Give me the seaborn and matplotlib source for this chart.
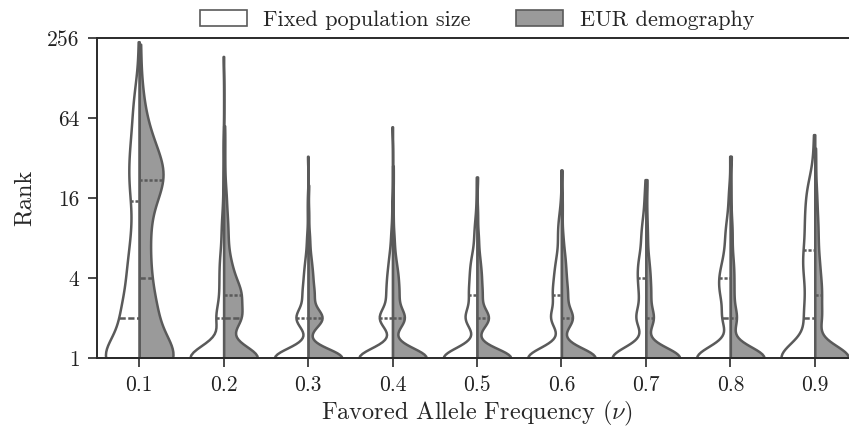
import numpy as np
import pandas as pd
import seaborn as sns
import matplotlib.pyplot as plt
from matplotlib.patches import Patch
from matplotlib.ticker import NullLocator

# ---------------- data (rank value, number of loci) ----------------
freq_labels = ["0.1", "0.2", "0.3", "0.4", "0.5", "0.6", "0.7", "0.8", "0.9"]
conditions = ["Fixed population size", "EUR demography"]
rank_ticks = [1, 4, 16, 64, 256]

fixed_01 = [(1, 40), (2, 16), (3, 6), (4, 5), (5, 4), (6, 3), (8, 4), (10, 2), (13, 2),
            (16, 3), (20, 3), (24, 4), (32, 4), (40, 3), (48, 2), (64, 3), (80, 2),
            (100, 2), (128, 1), (240, 1)]
eur_01 = [(1, 27), (2, 10), (3, 4), (4, 3), (5, 2), (6, 2), (8, 3), (10, 2), (12, 2),
          (16, 3), (20, 7), (24, 4), (28, 4), (32, 4), (40, 2), (48, 3), (64, 2),
          (90, 1), (115, 1), (230, 1)]

fixed_02 = [(1, 63), (2, 13), (3, 5), (4, 4), (5, 3), (6, 3), (8, 2), (10, 2), (12, 1),
            (16, 1), (24, 1), (40, 1), (186, 1)]
eur_02 = [(1, 45), (2, 20), (3, 17), (4, 7), (5, 4), (6, 3), (8, 3), (10, 2), (12, 2),
          (16, 2), (20, 1), (28, 1), (40, 1), (56, 1)]

fixed_03 = [(1, 57), (2, 20), (3, 8), (4, 5), (5, 3), (6, 2), (8, 2), (12, 1), (16, 1), (33, 1)]
eur_03 = [(1, 54), (2, 22), (3, 8), (4, 5), (5, 3), (6, 2), (8, 2), (12, 1), (20, 1)]

fixed_04 = [(1, 55), (2, 21), (3, 8), (4, 6), (5, 3), (6, 3), (8, 2), (10, 1), (14, 1), (55, 1)]
eur_04 = [(1, 56), (2, 19), (3, 8), (4, 6), (5, 3), (6, 2), (8, 2), (12, 1), (20, 1), (28, 1)]

fixed_05 = [(1, 54), (2, 18), (3, 10), (4, 7), (5, 5), (6, 4), (8, 3), (10, 2), (12, 1),
            (16, 1), (23, 1)]
eur_05 = [(1, 57), (2, 19), (3, 7), (4, 5), (5, 3), (6, 2), (8, 2), (12, 1), (23, 1)]

fixed_06 = [(1, 60), (2, 18), (3, 12), (4, 8), (5, 5), (6, 4), (8, 4), (10, 3), (12, 2),
            (16, 1), (26, 1)]
eur_06 = [(1, 57), (2, 18), (3, 8), (4, 5), (5, 3), (6, 3), (8, 2), (12, 1), (16, 1), (26, 1)]

fixed_07 = [(1, 58), (2, 16), (3, 8), (4, 8), (5, 6), (6, 5), (8, 5), (10, 3), (12, 2),
            (16, 2), (22, 1)]
eur_07 = [(1, 66), (2, 14), (3, 7), (4, 5), (5, 3), (6, 2), (8, 2), (10, 1), (12, 1),
          (16, 1), (22, 2)]

fixed_08 = [(1, 55), (2, 12), (3, 11), (4, 11), (5, 5), (6, 5), (8, 5), (10, 3), (12, 2),
            (16, 2), (20, 1), (33, 1)]
eur_08 = [(1, 70), (2, 12), (3, 5), (4, 4), (5, 3), (6, 2), (8, 2), (10, 2), (14, 1),
          (20, 1), (33, 2)]

fixed_09 = [(1, 36), (2, 9), (3, 5), (4, 4), (5, 4), (6, 5), (8, 4), (10, 3), (12, 4),
            (16, 4), (20, 3), (24, 1), (32, 1), (48, 1)]
eur_09 = [(1, 60), (2, 10), (3, 8), (4, 5), (5, 3), (6, 3), (8, 3), (10, 2), (12, 2),
          (16, 2), (20, 1), (28, 1), (38, 1)]

fixed_groups = [fixed_01, fixed_02, fixed_03, fixed_04, fixed_05, fixed_06, fixed_07, fixed_08, fixed_09]
eur_groups = [eur_01, eur_02, eur_03, eur_04, eur_05, eur_06, eur_07, eur_08, eur_09]

# ---------------- long table ----------------
rows = []
for f, fixed, eur in zip(freq_labels, fixed_groups, eur_groups):
    for cond, pairs in ((conditions[0], fixed), (conditions[1], eur)):
        for r, c in pairs:
            rows.extend([(f, cond, float(r))] * c)
df = pd.DataFrame(rows, columns=["freq", "cond", "rank"])

# ---------------- style ----------------
sns.set_style("ticks")
plt.rcParams["font.family"] = ["cmr10", "DejaVu Serif"]
plt.rcParams["mathtext.fontset"] = "cm"
plt.rcParams["axes.formatter.use_mathtext"] = True
plt.rcParams["axes.unicode_minus"] = False

line_col = "#5a5a5a"
spine_col = "#2a2a2a"
fill_gray = "#9a9a9a"

fig = plt.figure(figsize=(8.49, 4.30), dpi=100)
ax = fig.add_axes([97 / 849, 1 - 358 / 430, 760 / 849, 320 / 430])

sns.violinplot(
    data=df, x="freq", y="rank", hue="cond",
    order=freq_labels, hue_order=conditions,
    split=True, inner="quart", cut=0, density_norm="width",
    log_scale=2, bw_adjust=0.6, width=0.8, gap=0,
    palette={conditions[0]: "white", conditions[1]: fill_gray},
    linecolor=line_col, linewidth=1.8, saturation=1,
    legend=False, ax=ax,
)

ax.set_ylim(1, 256)
ax.set_xlim(-0.5, 8.5)
ax.set_yticks(rank_ticks)
ax.set_yticklabels([str(t) for t in rank_ticks])
ax.yaxis.set_minor_locator(NullLocator())

ax.set_xlabel(r"Favored Allele Frequency $(\nu)$", fontsize=17.5, labelpad=3)
ax.set_ylabel("Rank", fontsize=17.5, labelpad=8)

for side in ["left", "bottom", "top"]:
    ax.spines[side].set_color(spine_col)
    ax.spines[side].set_linewidth(1.4)
ax.spines["right"].set_visible(False)
ax.tick_params(axis="both", direction="out", length=6.5, width=1.2, color=spine_col,
               labelsize=15.5, labelcolor="#222222", pad=6)

handles = [Patch(facecolor="white", edgecolor=line_col, linewidth=1.2),
           Patch(facecolor=fill_gray, edgecolor=line_col, linewidth=1.2)]
ax.legend(handles, conditions, loc="lower center", bbox_to_anchor=(0.5, 0.995),
          ncol=2, frameon=False, fontsize=16, handlelength=2.1, handleheight=0.72,
          columnspacing=2.05, handletextpad=0.75, borderaxespad=0.05)

fig.savefig("out.png", dpi=100)
